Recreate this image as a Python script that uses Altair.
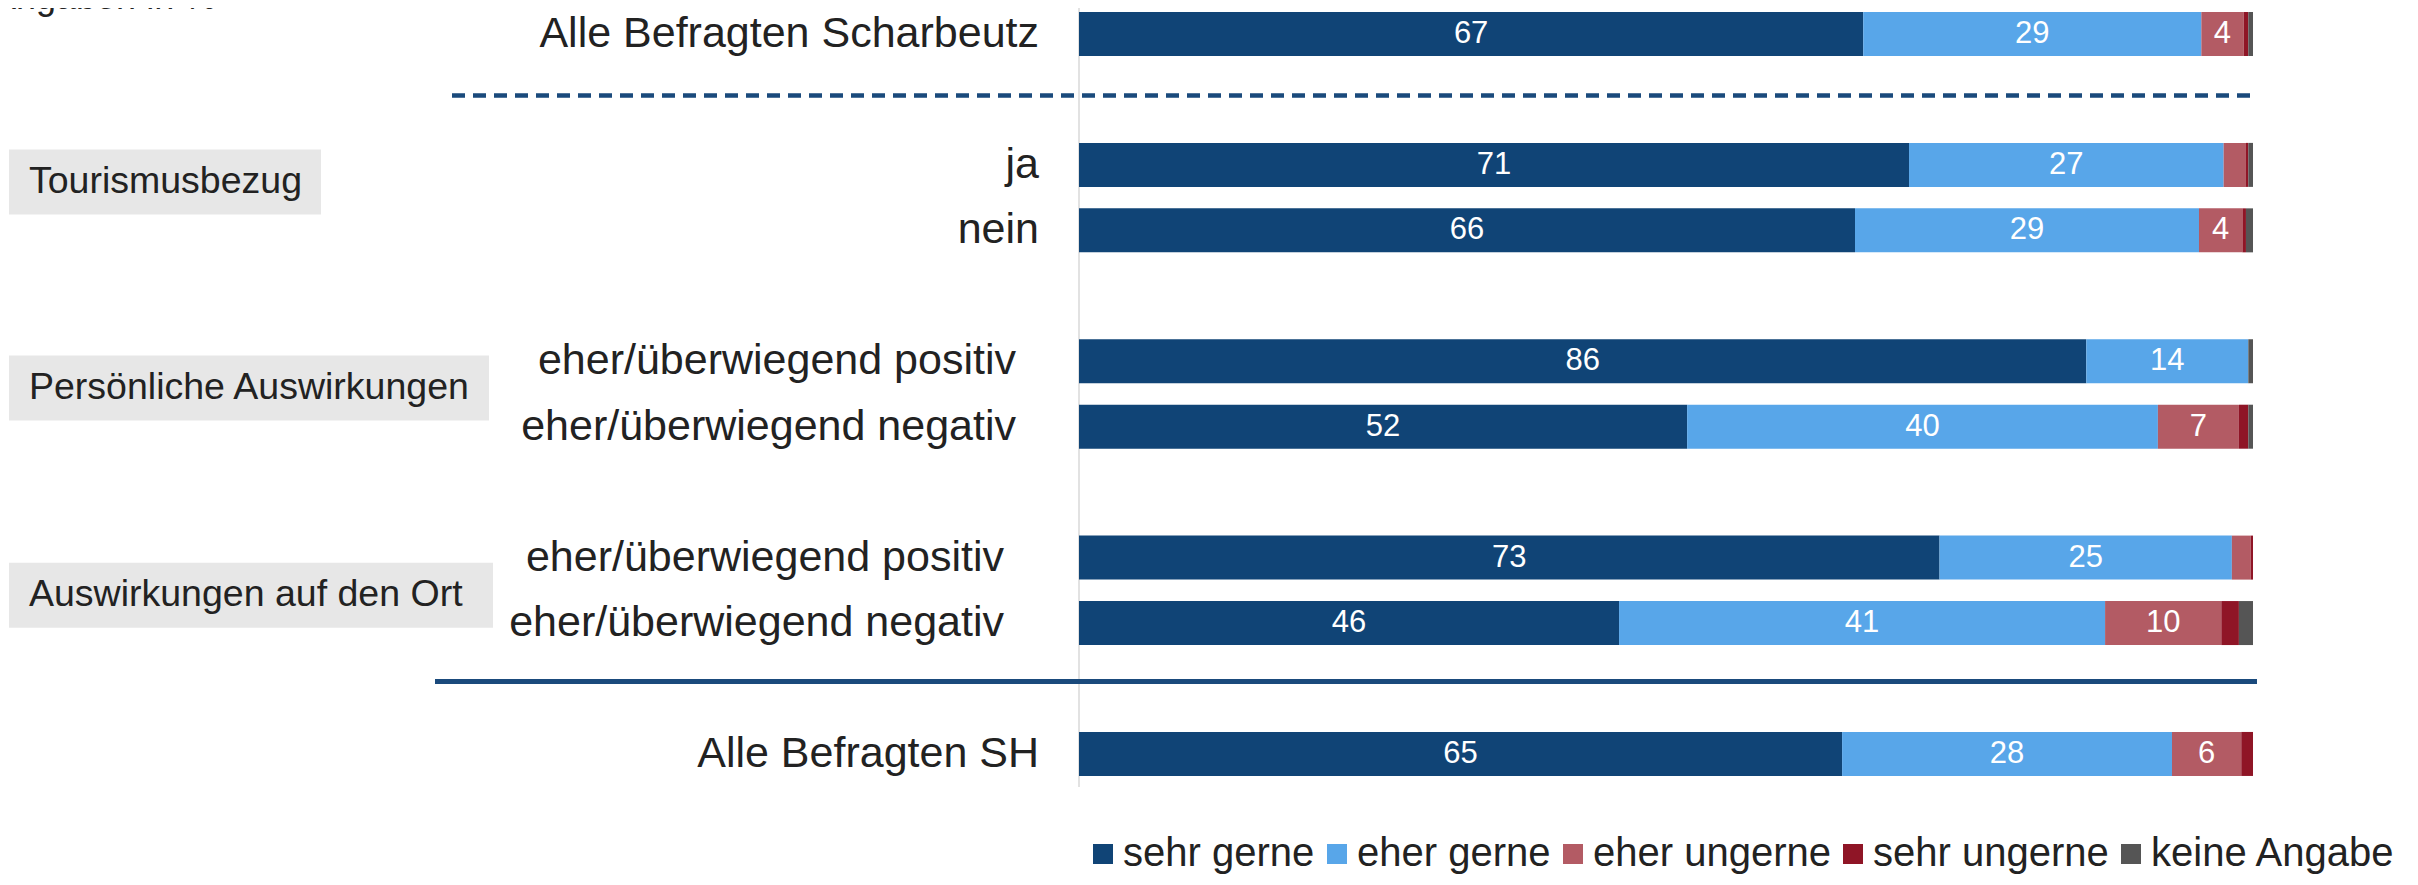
import altair as alt
import pandas as pd

note = "Angaben in %"
categories = ["sehr gerne", "eher gerne", "eher ungerne", "sehr ungerne", "keine Angabe"]
colors = ["#104476", "#58A6E9", "#B35B64", "#8F1526", "#555555"]

row_labels = [
    "Alle Befragten Scharbeutz",
    "ja",
    "nein",
    "eher/überwiegend positiv",
    "eher/überwiegend negativ",
    "eher/überwiegend positiv",
    "eher/überwiegend negativ",
    "Alle Befragten SH",
]
row_groups = [
    "",
    "Tourismusbezug",
    "Tourismusbezug",
    "Persönliche Auswirkungen",
    "Persönliche Auswirkungen",
    "Auswirkungen auf den Ort",
    "Auswirkungen auf den Ort",
    "",
]
row_slots = [0, 2, 3, 5, 6, 8, 9, 11]
group_names = ["Tourismusbezug", "Persönliche Auswirkungen", "Auswirkungen auf den Ort"]
separator_slots = [1, 10]

sehr_gerne = [66.8, 70.7, 66.1, 85.8, 51.8, 73.3, 46.0, 65.0]
eher_gerne = [28.8, 26.8, 29.3, 13.8, 40.1, 24.9, 41.4, 28.1]
eher_ungerne = [3.6, 1.9, 3.7, 0.0, 6.9, 1.6, 9.9, 5.9]
sehr_ungerne = [0.4, 0.2, 0.3, 0.0, 0.8, 0.2, 1.5, 1.0]
keine_angabe = [0.4, 0.4, 0.6, 0.4, 0.4, 0.0, 1.2, 0.0]

series = [sehr_gerne, eher_gerne, eher_ungerne, sehr_ungerne, keine_angabe]

# ---- tables built from the arrays ----
rows_df = pd.DataFrame({"label": row_labels, "group": row_groups, "slot": row_slots})
long_rows = []
for ci, (cat, vals) in enumerate(zip(categories, series)):
    for slot, v in zip(row_slots, vals):
        long_rows.append({"slot": slot, "cat": cat, "ci": ci, "value": v})
long_df = pd.DataFrame(long_rows)
sep_df = pd.DataFrame({"slot": separator_slots})
note_df = pd.DataFrame({"t": [note]})

# ---- layout ----
W, H = 2400, 869
PX = 65.45  # pixels per row slot
TOP = 26
FONT = "Liberation Sans"
TXT = "#222222"

xscale = alt.Scale(domain=[0, 100], range=[1071, 2245], nice=False, zero=False, padding=0)
yscale = alt.Scale(domain=[-TOP / PX, (H - TOP) / PX], range=[0, H], nice=False, zero=False, padding=0)


def X(f):
    return alt.X(f, type="quantitative", scale=xscale, axis=None)


def Y(f):
    return alt.Y(f, type="quantitative", scale=yscale, axis=None)


vline = alt.Chart(note_df).mark_rule(color="#d9d9d9", strokeWidth=1.5).encode(
    x=alt.X(datum=0, type="quantitative", scale=xscale, axis=None),
    y=alt.value(0),
    y2=alt.value(779),
)

stacked = alt.Chart(long_df).transform_stack(
    stack="value",
    groupby=["slot"],
    sort=[alt.SortField("ci", order="ascending")],
    as_=["x0", "x1"],
)

bars = stacked.mark_bar(orient="horizontal", size=44).encode(
    x=X("x0"),
    x2="x1:Q",
    y=Y("slot"),
    color=alt.Color(
        "cat:N",
        scale=alt.Scale(domain=categories, range=colors),
        legend=alt.Legend(
            orient="none",
            legendX=1075,
            legendY=826,
            direction="horizontal",
            columns=5,
            title=None,
            symbolType="square",
            symbolSize=400,
            symbolStrokeWidth=0,
            labelFontSize=40,
            labelFont=FONT,
            labelColor=TXT,
            labelLimit=600,
            labelOffset=0,
            columnPadding=2,
            padding=0,
        ),
    ),
)

bar_labels = (
    stacked.transform_calculate(mid="(datum.x0 + datum.x1) / 2")
    .transform_filter("datum.value >= 3")
    .mark_text(color="white", fontSize=31, font=FONT, baseline="middle", align="center")
    .encode(x=X("mid"), y=Y("slot"), text=alt.Text("value:Q", format=".0f"))
)

dashed = alt.Chart(sep_df).transform_filter("datum.slot == 1").mark_rule(
    color="#1A4A7C", strokeWidth=4.5, strokeDash=[13, 8], yOffset=-4
).encode(y=Y("slot"), x=alt.value(444), x2=alt.value(2249))

solid = alt.Chart(sep_df).transform_filter("datum.slot == 10").mark_rule(
    color="#1A4A7C", strokeWidth=5, yOffset=-7
).encode(y=Y("slot"), x=alt.value(427), x2=alt.value(2249))

layers = [vline, bars, dashed, solid, bar_labels]

# row labels, right aligned at group-dependent edges
label_edges = {"": 1031, "Tourismusbezug": 1031, "Persönliche Auswirkungen": 1008, "Auswirkungen auf den Ort": 996}
for g, edge in label_edges.items():
    layers.append(
        alt.Chart(rows_df)
        .transform_filter(alt.datum.group == g)
        .mark_text(align="right", baseline="middle", fontSize=43, font=FONT, color=TXT)
        .encode(x=alt.value(edge), y=Y("slot"), text="label:N")
    )

# group boxes
box_style = {
    "Tourismusbezug": (313, -15.6),
    "Persönliche Auswirkungen": (481, -6),
    "Auswirkungen auf den Ort": (485, 5),
}
for g in group_names:
    w, shift = box_style[g]
    base = alt.Chart(rows_df).transform_filter(alt.datum.group == g).transform_aggregate(
        center="mean(slot)", groupby=["group"]
    )
    layers.append(
        base.transform_calculate(
            y0=f"datum.center + {(shift - 32.5) / PX}", y1=f"datum.center + {(shift + 32.5) / PX}"
        )
        .mark_rect(color="#E7E7E7")
        .encode(x=alt.value(1), x2=alt.value(w), y=Y("y0"), y2="y1:Q")
    )
    layers.append(
        base.mark_text(align="left", baseline="middle", fontSize=37.5, font=FONT, color=TXT, dy=shift)
        .encode(x=alt.value(21), y=Y("center"), text="group:N")
    )

note_text = alt.Chart(note_df).mark_text(
    align="left", baseline="alphabetic", fontSize=36, font=FONT, color=TXT
).encode(x=alt.value(-16), y=alt.value(1), text="t:N")
layers.append(note_text)

chart = (
    alt.layer(*layers)
    .properties(width=W, height=H, padding=0, autosize=alt.AutoSizeParams(type="none"), background="white")
    .configure_view(stroke=None)
)

chart.save("out.html", embed_options={"renderer": "svg", "actions": False})
